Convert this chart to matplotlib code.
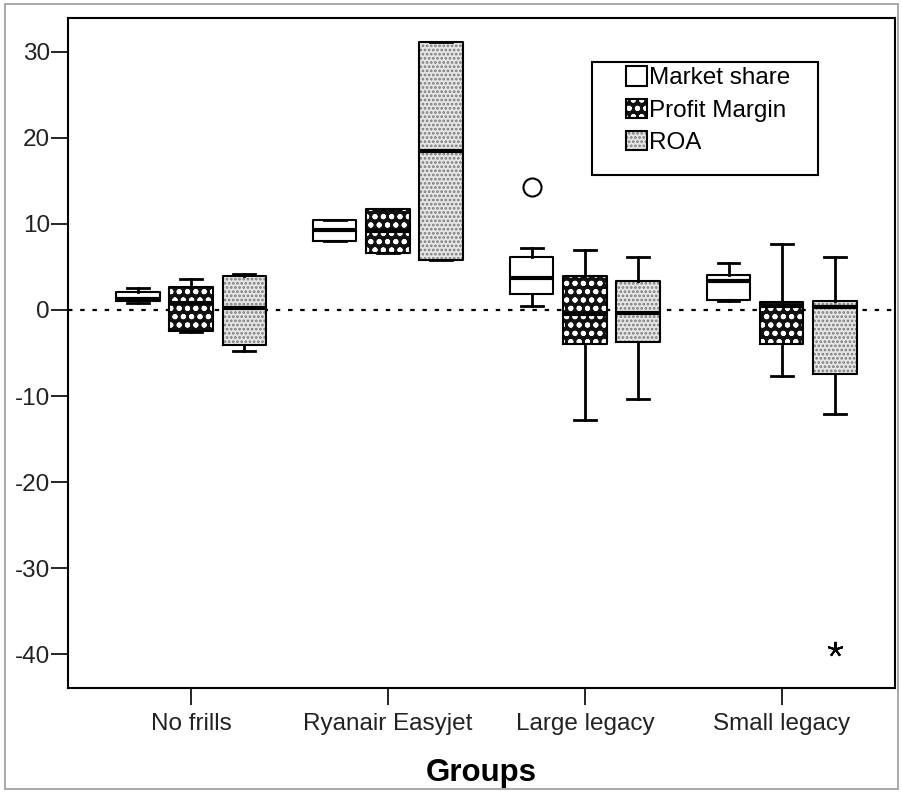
import matplotlib
matplotlib.use('Agg')
import matplotlib.pyplot as plt
from matplotlib.patches import Patch, Rectangle

# ── Data ──────────────────────────────────────────────────────────────────────
groups = ['No frills', 'Ryanair Easyjet', 'Large legacy', 'Small legacy']
series = ['Market share', 'Profit Margin', 'ROA']

ms_whislo = [0.8, 8.0, 0.5, 1.0]
ms_q1     = [1.0, 8.0, 1.9, 1.2]
ms_med    = [1.3, 9.3, 3.7, 3.4]
ms_q3     = [2.1, 10.5, 6.2, 4.1]
ms_whishi = [2.5, 10.5, 7.2, 5.4]
ms_fliers = [[], [], [14.3], []]

pm_whislo = [-2.6, 6.6, -12.8, -7.7]
pm_q1     = [-2.5, 6.6, -3.9, -3.9]
pm_med    = [0.8, 9.2, -0.5, 0.5]
pm_q3     = [2.7, 11.7, 3.9, 0.9]
pm_whishi = [3.6, 11.7, 7.0, 7.7]
pm_fliers = [[], [], [], []]

roa_whislo = [-4.8, 5.8, -10.3, -12.1]
roa_q1     = [-4.1, 5.8, -3.7, -7.4]
roa_med    = [0.2, 18.4, -0.4, 0.3]
roa_q3     = [3.9, 31.1, 3.4, 1.0]
roa_whishi = [4.2, 31.1, 6.2, 6.1]
roa_fliers = [[], [], [], [-39.4]]

yticks = [30, 20, 10, 0, -10, -20, -30, -40]

# ── Style ─────────────────────────────────────────────────────────────────────
plt.rcParams['font.family'] = ['Liberation Sans', 'DejaVu Sans']
plt.rcParams['axes.unicode_minus'] = False
plt.rcParams['hatch.linewidth'] = 1.3
TEXT = '#222222'
FS = 17.5
OFFSET = 0.27
WIDTH = 0.22

# (facecolor, hatch colour, hatch, flier marker)
styles = [
    ('white',   'white',   None,   dict(marker='o', markersize=13, markerfacecolor='none',
                                        markeredgecolor='black', markeredgewidth=1.5)),
    ('#121212', 'white',   'oo..', dict(marker='o')),
    ('#e6e6e6', '#7a7a7a', '....', dict(marker=(5, 2, 0), markersize=11, color='black',
                                        markeredgecolor='black', markeredgewidth=1.5)),
]
all_stats = [
    (ms_whislo, ms_q1, ms_med, ms_q3, ms_whishi, ms_fliers),
    (pm_whislo, pm_q1, pm_med, pm_q3, pm_whishi, pm_fliers),
    (roa_whislo, roa_q1, roa_med, roa_q3, roa_whishi, roa_fliers),
]

fig = plt.figure(figsize=(9.02, 7.93), dpi=100)
ax = fig.add_axes([0.0754, 0.1324, 0.9168, 0.8449])

ax.axhline(0, color='black', lw=1.6, ls=(0, (2, 3.5)), zorder=0.5)

for k, (st, (lo, q1, med, q3, hi, fl)) in enumerate(zip(styles, all_stats)):
    fc, hc, hatch, fprops = st
    stats = [dict(whislo=lo[i], q1=q1[i], med=med[i], q3=q3[i], whishi=hi[i], fliers=fl[i])
             for i in range(len(groups))]
    pos = [i + (k - 1) * OFFSET for i in range(len(groups))]
    # fill + pattern
    ax.bxp(stats, positions=pos, widths=WIDTH, patch_artist=True, showcaps=False,
           showfliers=False, manage_ticks=False,
           boxprops=dict(facecolor=fc, edgecolor=hc, hatch=hatch, linewidth=0),
           medianprops=dict(linewidth=0), whiskerprops=dict(linewidth=0))
    # outlines
    ax.bxp(stats, positions=pos, widths=WIDTH, capwidths=WIDTH / 2, manage_ticks=False,
           showfliers=True,
           boxprops=dict(color='black', linewidth=1.5),
           medianprops=dict(color='black', linewidth=3),
           whiskerprops=dict(color='black', linewidth=2),
           capprops=dict(color='black', linewidth=2),
           flierprops=fprops)

ax.set_xlim(-0.625, 3.575)
ax.set_ylim(-43.9, 33.9)
ax.set_xticks(range(len(groups)), groups)
ax.set_yticks(yticks)
ax.tick_params(axis='both', direction='out', length=12, width=1.2, labelsize=FS,
               labelcolor=TEXT)
ax.tick_params(axis='x', pad=6)
ax.tick_params(axis='y', pad=1)
for s in ax.spines.values():
    s.set_linewidth(1.5)
ax.set_xlabel('Groups', fontsize=22.5, fontweight='bold', labelpad=16.5, color='black')

# Legend: fixed frame with entries inside
ax.add_patch(Rectangle((0.634, 0.766), 0.273, 0.168, transform=ax.transAxes,
                       fill=False, edgecolor='black', lw=1.5, zorder=5))
handles = [(Patch(facecolor=fc, edgecolor=hc, hatch=h, lw=0),
            Patch(fill=False, edgecolor='black', lw=1.5))
           for fc, hc, h, _ in styles]
ax.legend(handles, series, loc='upper left', bbox_to_anchor=(0.675, 0.928),
          frameon=False, fontsize=FS, handlelength=0.85, handleheight=0.85,
          handletextpad=0.1, labelspacing=0.38, borderpad=0, borderaxespad=0)

# outer frame of the picture
fig.patches.append(Rectangle((0.006, 0.005), 0.990, 0.990, transform=fig.transFigure,
                             fill=False, edgecolor='#9a9a9a', lw=1.2))

fig.savefig('out.png', dpi=100)
